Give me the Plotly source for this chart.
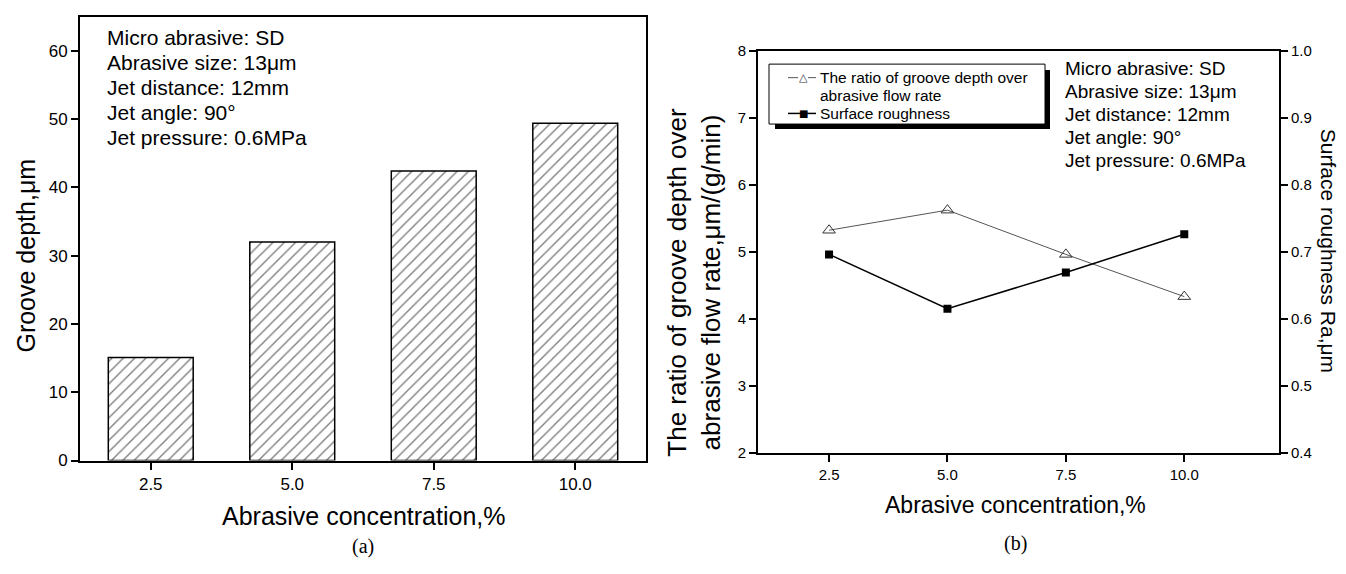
import plotly.graph_objects as go

# ---------------- data ----------------
conc = [2.5, 5.0, 7.5, 10.0]
conc_labels = ["2.5", "5.0", "7.5", "10.0"]
groove_depth = [15.1, 32.0, 42.4, 49.4]
ratio_depth_flow = [5.32, 5.62, 4.96, 4.33]
surface_roughness = [0.696, 0.615, 0.669, 0.726]

info_lines = ["Micro abrasive: SD", "Abrasive size: 13\u03bcm", "Jet distance: 12mm",
              "Jet angle: 90\u00b0", "Jet pressure: 0.6MPa"]

W, H = 1346, 574
FONT = "Liberation Sans, Arial, sans-serif"
SERIF = "Liberation Serif, Times New Roman, serif"


def px(x):
    return x / W


def py(y):
    return 1 - y / H


fig = go.Figure()

# (a) bars
fig.add_trace(go.Bar(
    x=conc, y=groove_depth, width=1.5,
    marker=dict(color="white", line=dict(color="black", width=1.5),
                pattern=dict(shape="/", fgcolor="black", bgcolor="white", size=8, solidity=0.17)),
    xaxis="x", yaxis="y", showlegend=False))

# (b) lines
fig.add_trace(go.Scatter(
    x=conc, y=ratio_depth_flow, mode="lines+markers",
    line=dict(color="#555555", width=1),
    marker=dict(symbol="triangle-up-open", size=11, color="#333333", line=dict(width=1)),
    xaxis="x2", yaxis="y2", showlegend=False))
fig.add_trace(go.Scatter(
    x=conc, y=surface_roughness, mode="lines+markers",
    line=dict(color="black", width=1.5),
    marker=dict(symbol="square", size=8, color="black"),
    xaxis="x2", yaxis="y3", showlegend=False))


def axis_style(fs):
    return dict(showline=True, linecolor="black", linewidth=2, ticks="outside",
                tickcolor="black", tickwidth=1.5, ticklen=7, showgrid=False, zeroline=False,
                tickfont=dict(family=FONT, size=fs, color="black"))


fig.update_layout(
    width=W, height=H, margin=dict(l=0, r=0, t=0, b=0),
    paper_bgcolor="white", plot_bgcolor="white",
    xaxis=dict(domain=[px(80), px(646)], range=[1.25, 11.25], tickvals=conc, ticktext=conc_labels,
               anchor="y", mirror=True, **axis_style(17)),
    yaxis=dict(domain=[py(467), py(8)], range=[0, 65], tickvals=[0, 10, 20, 30, 40, 50, 60],
               anchor="x", mirror=True, **axis_style(17)),
    xaxis2=dict(domain=[px(758), px(1279)], range=[1, 12], tickvals=conc, ticktext=conc_labels,
                anchor="y2", mirror=True, **axis_style(15)),
    yaxis2=dict(domain=[py(459), py(43)], range=[2, 8], tickvals=[2, 3, 4, 5, 6, 7, 8],
                anchor="x2", **axis_style(15)),
    yaxis3=dict(domain=[py(459), py(43)], range=[0.4, 1.0], overlaying="y2", side="right",
                tickvals=[0.4, 0.5, 0.6, 0.7, 0.8, 0.9, 1.0],
                ticktext=["0.4", "0.5", "0.6", "0.7", "0.8", "0.9", "1.0"],
                anchor="x2", **axis_style(15)),
)

ann = []
# axis titles
ann.append(dict(text="Groove depth,\u03bcm", x=px(26), y=py(255), textangle=-90,
                font=dict(family=FONT, size=25, color="black")))
ann.append(dict(text="Abrasive concentration,%", x=px(363), y=py(524),
                font=dict(family=FONT, size=25, color="black")))
ann.append(dict(text="(a)", x=px(363), y=py(556), font=dict(family=SERIF, size=20, color="black")))
ann.append(dict(text="The ratio of groove depth over<br>abrasive flow rate,\u03bcm/(g/min)", x=px(694), y=py(282),
                textangle=-90, font=dict(family=FONT, size=26, color="black")))
ann.append(dict(text="Surface roughness Ra,\u03bcm", x=px(1328), y=py(250), textangle=90,
                font=dict(family=FONT, size=21, color="black")))
ann.append(dict(text="Abrasive concentration,%", x=px(1015), y=py(513),
                font=dict(family=FONT, size=23, color="black")))
ann.append(dict(text="(b)", x=px(1015), y=py(553), font=dict(family=SERIF, size=20, color="black")))

# info text blocks
for i, t in enumerate(info_lines):
    ann.append(dict(text=t, x=px(105), y=py(29 + 26 * i), xanchor="left",
                    font=dict(family=FONT, size=21, color="black")))
    ann.append(dict(text=t, x=px(1063), y=py(62 + 23.8 * i), xanchor="left",
                    font=dict(family=FONT, size=19, color="black")))

# legend texts
ann.append(dict(text="The ratio of groove depth over", x=px(818), y=py(71), xanchor="left",
                font=dict(family=FONT, size=15.5, color="black")))
ann.append(dict(text="abrasive flow rate", x=px(818), y=py(89), xanchor="left",
                font=dict(family=FONT, size=15.5, color="black")))
ann.append(dict(text="Surface roughness", x=px(818), y=py(108), xanchor="left",
                font=dict(family=FONT, size=15.5, color="black")))
ann.append(dict(text="\u25b3", x=px(803), y=py(71), font=dict(family="DejaVu Sans", size=11, color="#333333")))
ann.append(dict(text="\u25a0", x=px(803), y=py(108), font=dict(family="DejaVu Sans", size=10, color="black")))

for a in ann:
    a.setdefault("xref", "paper")
    a.setdefault("yref", "paper")
    a.setdefault("showarrow", False)
    a.setdefault("xanchor", "center")
    a.setdefault("yanchor", "middle")
fig.update_layout(annotations=ann)

shapes = [
    dict(type="rect", x0=px(775), x1=px(1050), y0=py(124), y1=py(63), fillcolor="black", line=dict(width=0)),
    dict(type="rect", x0=px(769), x1=px(1045), y0=py(119), y1=py(57), fillcolor="white",
         line=dict(color="black", width=1)),
    dict(type="line", x0=px(788), x1=px(798), y0=py(71), y1=py(71), line=dict(color="#555555", width=1)),
    dict(type="line", x0=px(808), x1=px(816), y0=py(71), y1=py(71), line=dict(color="#555555", width=1)),
    dict(type="line", x0=px(788), x1=px(816), y0=py(108), y1=py(108), line=dict(color="black", width=1.5)),
]
for s in shapes:
    s["xref"] = "paper"
    s["yref"] = "paper"
    s["layer"] = "above"
fig.update_layout(shapes=shapes)

fig.write_html("out.html", config={"displayModeBar": False},
               post_script="document.body.style.margin='0px';document.body.style.overflow='hidden';")
